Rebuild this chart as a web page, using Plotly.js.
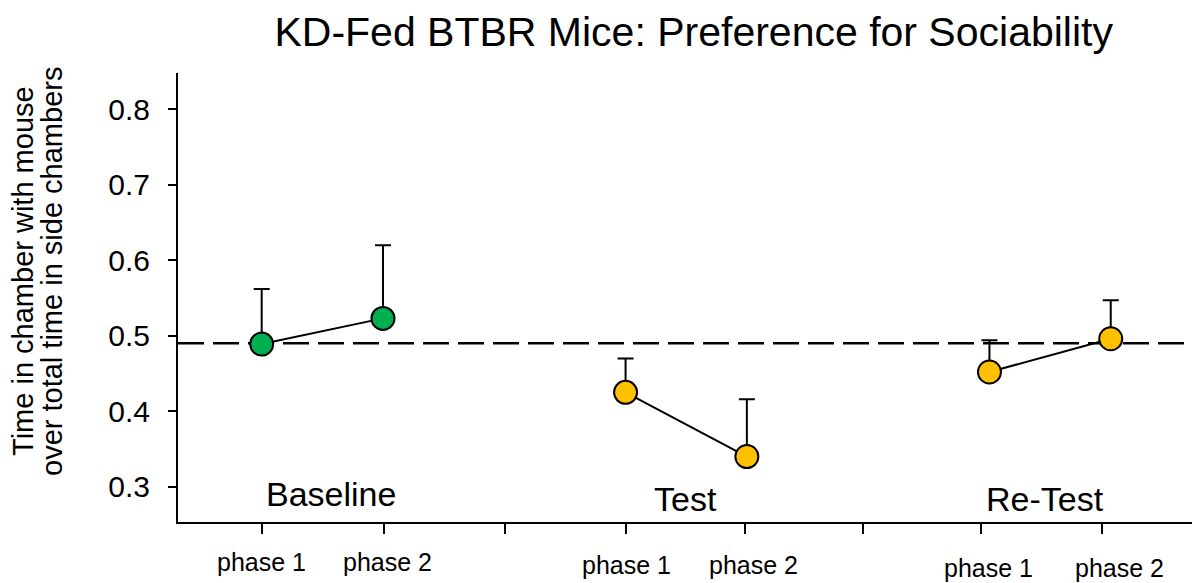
<!DOCTYPE html>
<html>
<head>
<meta charset="utf-8">
<script src="https://cdn.plot.ly/plotly-3.0.1.min.js"></script>
<style>
  html, body { margin: 0; padding: 0; background: #ffffff; }
  #chart { width: 1194px; height: 583px; }
</style>
</head>
<body>
<div id="chart"></div>
<script>
// ---- data ----
const groupNames = ['Baseline', 'Test', 'Re-Test'];
const phaseNames = ['phase 1', 'phase 2'];
const baselineMean = [0.489, 0.523];
const baselineErr  = [0.073, 0.097];
const testMean     = [0.425, 0.340];
const testErr      = [0.045, 0.076];
const retestMean   = [0.452, 0.496];
const retestErr    = [0.042, 0.051];
const referenceLevel = 0.49;
const yTickValues = [0.3, 0.4, 0.5, 0.6, 0.7, 0.8];
const yTickLabels = ['0.3', '0.4', '0.5', '0.6', '0.7', '0.8'];
const titleText = 'KD-Fed BTBR Mice: Preference for Sociability';
const yTitleLines = ['Time in chamber with mouse', 'over total time in side chambers'];

// ---- layout / style ----
const FONT = 'Liberation Sans, Arial, Helvetica, sans-serif';
const groupMeans = [baselineMean, testMean, retestMean];
const groupErrs = [baselineErr, testErr, retestErr];
const groupColors = ['#00B050', '#FFC000', '#FFC000'];

// each group occupies three slots on the x axis (two phases + a spacer)
function slot(g, p) { return g * 3 + p + 1; }

const traces = groupNames.map((name, g) => ({
  type: 'scatter',
  mode: 'lines+markers',
  name: name,
  x: phaseNames.map((_, p) => slot(g, p)),
  y: groupMeans[g],
  line: { color: '#000000', width: 2 },
  marker: { size: 23, color: groupColors[g], line: { color: '#000000', width: 2 } },
  error_y: {
    type: 'data', symmetric: false,
    array: groupErrs[g], arrayminus: groupErrs[g].map(() => 0),
    color: '#000000', thickness: 2, width: 8
  },
  showlegend: false,
  hoverinfo: 'x+y'
}));

// x tick marks in the reference are spaced slightly tighter than the points
const xTickSlots = [1.0, 2.008, 3.006, 4.003, 4.984, 5.957, 6.93, 7.928];

// label placement (pixels) to mimic the reference's staggered text
const phaseLabelXShift = [[0, 5], [1, 7], [-1, 9]];
const phaseLabelYShift = [-40, -43, -46];
const groupLabelXShift = [9, -1, -5];
const groupLabelYShift = [28, 23.5, 23.5];

const annotations = [];
groupNames.forEach((name, g) => {
  annotations.push({
    text: name, xref: 'x', yref: 'paper',
    x: (slot(g, 0) + slot(g, 1)) / 2, y: 0,
    xanchor: 'center', yanchor: 'middle',
    xshift: groupLabelXShift[g], yshift: groupLabelYShift[g],
    showarrow: false, font: { family: FONT, size: 34, color: '#000000' }
  });
  phaseNames.forEach((ph, p) => {
    annotations.push({
      text: ph, xref: 'x', yref: 'paper',
      x: slot(g, p), y: 0,
      xanchor: 'center', yanchor: 'middle',
      xshift: phaseLabelXShift[g][p], yshift: phaseLabelYShift[g],
      showarrow: false, font: { family: FONT, size: 25, color: '#000000' }
    });
  });
});
const yTitleX = [-0.1529, -0.1243];
yTitleLines.forEach((t, i) => {
  annotations.push({
    text: t, xref: 'paper', yref: 'paper',
    x: yTitleX[i], y: 0.559, xanchor: 'center', yanchor: 'middle',
    textangle: -90, showarrow: false,
    font: { family: FONT, size: 29, color: '#000000' }
  });
});

const layout = {
  width: 1194, height: 583,
  margin: { l: 178, r: 2, t: 73, b: 61, pad: 0 },
  paper_bgcolor: '#ffffff', plot_bgcolor: '#ffffff',
  font: { family: FONT, color: '#000000' },
  title: {
    text: titleText, font: { family: FONT, size: 41, color: '#000000' },
    x: 0.581, xref: 'container', xanchor: 'center',
    y: 0.945, yref: 'container', yanchor: 'middle'
  },
  xaxis: {
    range: [0.31, 8.67],
    tickvals: xTickSlots, showticklabels: false,
    ticks: 'outside', ticklen: 10, tickwidth: 2, tickcolor: '#000000',
    showline: true, linewidth: 2, linecolor: '#000000',
    showgrid: false, zeroline: false, fixedrange: true
  },
  yaxis: {
    range: [0.2533, 0.848],
    tickvals: yTickValues, ticktext: yTickLabels,
    ticks: 'outside', ticklen: 8, tickwidth: 2, tickcolor: '#000000',
    ticklabelstandoff: 12,
    tickfont: { family: FONT, size: 30, color: '#000000' },
    showline: true, linewidth: 2, linecolor: '#000000',
    showgrid: false, zeroline: false, fixedrange: true
  },
  shapes: [{
    type: 'line', xref: 'paper', yref: 'y', layer: 'below',
    x0: 0, x1: 1, y0: referenceLevel, y1: referenceLevel,
    line: { color: '#000000', width: 2.5, dash: '26px,9px' }
  }],
  annotations: annotations
};

Plotly.newPlot('chart', traces, layout, { displayModeBar: false, staticPlot: true });
</script>
</body>
</html>
